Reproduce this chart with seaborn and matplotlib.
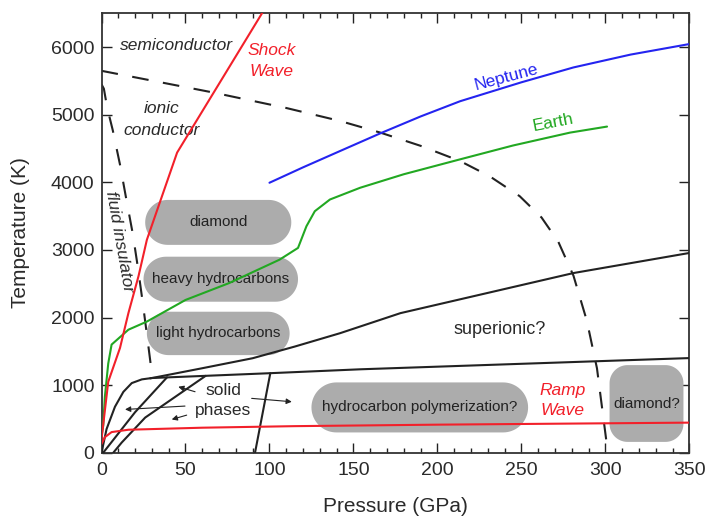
import matplotlib
matplotlib.use("Agg")
import matplotlib.pyplot as plt
import seaborn as sns
import pandas as pd
import numpy as np

# ---- phase-diagram curves: pressure (GPa), temperature (K) ----
shock_p = [0, 4, 11, 16, 22, 27, 45, 97]
shock_t = [200, 1050, 1550, 2065, 2610, 3150, 4440, 6560]

ramp_p = [0, 2, 6, 16, 60, 115, 200, 350]
ramp_t = [130, 230, 305, 340, 370, 393, 415, 445]

earth_p = [0, 1, 2, 4, 6, 16, 27, 50, 76, 106, 117, 122, 127, 136, 154, 180, 213, 245, 279, 301]
earth_t = [250, 400, 830, 1320, 1600, 1820, 1940, 2260, 2510, 2856, 3030, 3350, 3573,
           3746, 3920, 4120, 4337, 4545, 4736, 4825]

neptune_p = [100, 120, 142, 166, 190, 213.5, 250, 281, 315, 350]
neptune_t = [3994, 4222, 4463, 4725, 4975, 5200, 5480, 5700, 5890, 6046]

metal_p = [0, 66.5, 110, 142, 166, 190, 213.5, 231, 249, 262, 272, 281, 289, 295, 301.5]
metal_t = [5650, 5329, 5100, 4908, 4736, 4540, 4315, 4092, 3795, 3480, 3120, 2620, 1950, 1250, 0]

insul_p = [0, 1.4, 3.4, 6.7, 11, 14.8, 18.6, 21.7, 24.5, 27.1, 29.7, 30]
insul_t = [5450, 5385, 5102, 4770, 4262, 3744, 3240, 2732, 2228, 1733, 1225, 1100]

solidus_p = [0, 3, 8, 13, 18, 24, 30, 99, 154, 350]
solidus_t = [0, 350, 680, 900, 1030, 1085, 1105, 1175, 1234, 1400]

superionic_p = [29, 60, 90, 115, 142, 178, 281, 350]
superionic_t = [1100, 1250, 1398, 1570, 1768, 2065, 2658, 2955]

solid_b_p = [1, 20, 39]
solid_b_t = [0, 600, 1115]

solid_c_p = [7, 12, 26, 62]
solid_c_t = [0, 150, 520, 1137]

solid_e_p = [91.4, 100.5]
solid_e_t = [0, 1176]

# ---- shaded regions: label, pressure span, temperature span ----
blob_labels = ["diamond", "heavy hydrocarbons", "light hydrocarbons",
               "hydrocarbon polymerization?", "diamond?"]
blob_p0 = [26, 25, 27, 125, 302.5]
blob_p1 = [113, 117, 112, 254, 346.5]
blob_t0 = [3075, 2234, 1444, 300, 160]
blob_t1 = [3740, 2900, 2086, 1040, 1296]

# ---- axis ticks ----
x_ticks = [0, 50, 100, 150, 200, 250, 300, 350]
y_ticks = [0, 1000, 2000, 3000, 4000, 5000, 6000]

sns.set_theme(style="ticks")
plt.rcParams["font.family"] = ["Liberation Sans", "DejaVu Sans"]

fig = plt.figure(figsize=(7.07, 5.2), dpi=100)
ax = fig.add_axes([0.1436, 0.1294, 0.8314, 0.8449])
ax.set_xlim(0, 350)
ax.set_ylim(0, 6500)

RED = "#f2202a"
BLUE = "#2424f0"
GREEN = "#22a822"
INK = "#222222"
GRAY = "#acacac"
TXT = "#2a2a2a"


def curve(p, t, color, lw=1.5, ls="-", z=3):
    df = pd.DataFrame({"P": p, "T": t})
    sns.lineplot(data=df, x="P", y="T", ax=ax, color=color, lw=lw, linestyle=ls,
                 sort=False, estimator=None, zorder=z)


# data units per screen pixel, so blob corners come out circular
bbox = ax.get_position()
ax_w = bbox.width * fig.get_figwidth() * fig.dpi
ax_h = bbox.height * fig.get_figheight() * fig.dpi
p_per_px = 350 / ax_w
t_per_px = 6500 / ax_h


def rounded_blob(p0, p1, t0, t1, r_px):
    w = (p1 - p0) / p_per_px
    h = (t1 - t0) / t_per_px
    r = min(r_px, w / 2, h / 2)
    corners = [(w - r, h - r, 0), (r, h - r, 90), (r, r, 180), (w - r, r, 270)]
    xs, ys = [], []
    for cx, cy, a0 in corners:
        ang = np.radians(np.linspace(a0, a0 + 90, 20))
        xs.extend(cx + r * np.cos(ang))
        ys.extend(cy + r * np.sin(ang))
    xs = p0 + np.array(xs) * p_per_px
    ys = t0 + np.array(ys) * t_per_px
    ax.fill(xs, ys, color=GRAY, lw=0, zorder=1)


for lab, p0, p1, t0, t1 in zip(blob_labels, blob_p0, blob_p1, blob_t0, blob_t1):
    rounded_blob(p0, p1, t0, t1, 18 if lab == "diamond?" else 40)
    ax.text((p0 + p1) / 2, (t0 + t1) / 2, lab, ha="center", va="center",
            fontsize=11, color=INK, zorder=2)

# boundaries
curve(metal_p, metal_t, INK, lw=1.5, ls=(0, (8, 7)), z=2)
curve(insul_p, insul_t, INK, lw=1.5, ls=(0, (8, 8)), z=2)
curve(solidus_p, solidus_t, INK)
curve(superionic_p, superionic_t, INK)
curve(solid_b_p, solid_b_t, INK)
curve(solid_c_p, solid_c_t, INK)
curve(solid_e_p, solid_e_t, INK)

# planetary isentropes and compression paths
curve(neptune_p, neptune_t, BLUE, z=4)
curve(earth_p, earth_t, GREEN, z=4)
curve(ramp_p, ramp_t, RED, z=4)
curve(shock_p, shock_t, RED, z=4)

# region labels
it = dict(style="italic", fontsize=12.5, ha="center", va="center")
ax.text(44.8, 6020, "semiconductor", color=TXT, **it)
ax.text(36, 5092, "ionic", color=TXT, **it)
ax.text(36, 4770, "conductor", color=TXT, **it)
ax.text(101.4, 5947, "Shock", color=RED, **it)
ax.text(101.4, 5635, "Wave", color=RED, **it)
ax.text(274.7, 926, "Ramp", color=RED, **it)
ax.text(274.7, 620, "Wave", color=RED, **it)
ax.text(10.8, 3126, "fluid insulator", color=TXT, rotation=-80,
        rotation_mode="anchor", **it)
ax.text(241.3, 5560, "Neptune", color=BLUE, fontsize=12.5, ha="center",
        va="center", rotation=15, rotation_mode="anchor")
ax.text(269, 4890, "Earth", color=GREEN, fontsize=12.5, ha="center",
        va="center", rotation=11, rotation_mode="anchor")
ax.text(237, 1818, "superionic?", color=TXT, fontsize=13, ha="center", va="center")
ax.text(72.6, 926, "solid", color=TXT, fontsize=12.5, ha="center", va="center")
ax.text(72.6, 630, "phases", color=TXT, fontsize=12.5, ha="center", va="center")

arrow_kw = dict(arrowstyle="-|>", color=INK, lw=0.8, mutation_scale=8,
                shrinkA=0, shrinkB=0)
ax.annotate("", xy=(45.7, 976), xytext=(55.7, 902), arrowprops=arrow_kw, zorder=5)
ax.annotate("", xy=(14, 640), xytext=(49.7, 690), arrowprops=arrow_kw, zorder=5)
ax.annotate("", xy=(41.8, 492), xytext=(50.7, 556), arrowprops=arrow_kw, zorder=5)
ax.annotate("", xy=(113.3, 754), xytext=(89.4, 804), arrowprops=arrow_kw, zorder=5)

# axes styling
ax.set_xticks(x_ticks)
ax.set_yticks(y_ticks)
ax.set_xticks(range(0, 351, 10), minor=True)
ax.tick_params(which="both", direction="in", top=True, right=True,
               colors=INK, labelcolor=TXT, labelsize=14, width=1)
ax.tick_params(which="major", length=7)
ax.tick_params(which="minor", length=3.5)
ax.tick_params(axis="x", pad=7)
ax.tick_params(axis="y", pad=5)
for s in ax.spines.values():
    s.set_color("#333333")
    s.set_linewidth(1.3)
ax.set_xlabel("Pressure (GPa)", fontsize=15, color=TXT, labelpad=13)
ax.set_ylabel("Temperature (K)", fontsize=15, color=TXT, labelpad=15)
ax.grid(False)

fig.savefig("out.png", dpi=100)
